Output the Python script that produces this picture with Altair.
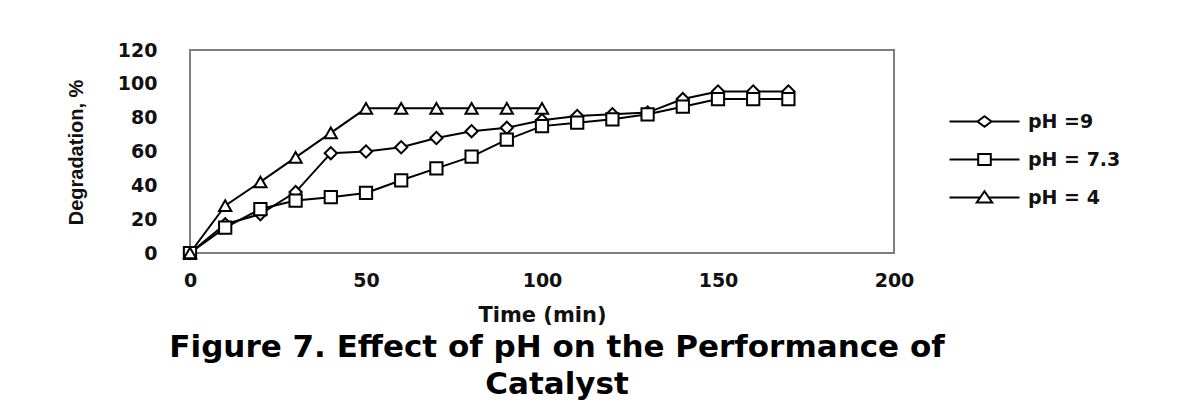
import altair as alt
import pandas as pd

# ---- data ----
series_labels = ["pH =9", "pH = 7.3", "pH = 4"]

time_ph9 = [0, 10, 20, 30, 40, 50, 60, 70, 80, 90, 100, 110, 120, 130, 140, 150, 160, 170]
deg_ph9 = [0, 17, 23, 36, 59, 60, 62.5, 68, 72, 74, 78.5, 81, 82, 83, 91, 95.5, 95.5, 95.5]

time_ph73 = [0, 10, 20, 30, 40, 50, 60, 70, 80, 90, 100, 110, 120, 130, 140, 150, 160, 170]
deg_ph73 = [0, 15, 26, 31, 33, 35.5, 43, 50, 57, 67, 75, 77, 79, 82, 86.5, 91, 91, 91]

time_ph4 = [0, 10, 20, 30, 40, 50, 60, 70, 80, 90, 100]
deg_ph4 = [0, 28, 42, 56.5, 71, 85.5, 85.5, 85.5, 85.5, 85.5, 85.5]

x_ticks = [0, 50, 100, 150, 200]
y_ticks = [0, 20, 40, 60, 80, 100, 120]

rows = []
for lab, ts, vs in zip(series_labels, [time_ph9, time_ph73, time_ph4], [deg_ph9, deg_ph73, deg_ph4]):
    for t, v in zip(ts, vs):
        rows.append({"series": lab, "time": t, "deg": v})
df = pd.DataFrame(rows)

# marker shapes for the plot and legend glyphs (line through marker)
plot_shapes = ["diamond", "square", "triangle-up"]
legend_shapes = [
    "M-5,0L-1,0M1,0L5,0M-1,0L0,-0.75L1,0L0,0.75Z",
    "M-5,0L-0.9,0M0.9,0L5,0M-0.9,-0.8L0.9,-0.8L0.9,0.8L-0.9,0.8Z",
    "M-5,0L-0.62,0M0.62,0L5,0M-1.1,0.7L0,-0.9L1.1,0.7Z",
]

tick_font = "DejaVu Sans"

x_enc = alt.X(
    "time:Q",
    scale=alt.Scale(domain=[0, 200], nice=False),
    axis=alt.Axis(
        values=x_ticks, ticks=False, domain=False, grid=False, labelFlush=False,
        labelPadding=18, labelFont=tick_font, labelFontSize=19, labelFontWeight="bold",
        labelColor="#111111",
        title="Time (min)", titleFont=tick_font, titleFontSize=21, titleFontWeight="bold",
        titleColor="#111111", titleX=352, titleY=62, titleBaseline="middle", titleAlign="center",
    ),
)
y_enc = alt.Y(
    "deg:Q",
    scale=alt.Scale(domain=[0, 120], nice=False),
    axis=alt.Axis(
        values=y_ticks, ticks=False, domain=False, grid=False,
        labelPadding=33, labelFont=tick_font, labelFontSize=19, labelFontWeight="bold",
        labelColor="#111111",
        title="Degradation, %",
        titleFont="Liberation Sans",
        titleFontSize=20, titleFontWeight="bold", titleColor="#111111",
        titleAngle=270, titleX=-114, titleY=102, titleBaseline="middle", titleAlign="center",
    ),
)

base = alt.Chart(df)

lines = base.mark_line(color="black", strokeWidth=2).encode(
    x=x_enc, y=y_enc, detail="series:N"
)

points = base.mark_point(filled=True, fill="white", stroke="black", strokeWidth=2, size=150, opacity=1).encode(
    x=x_enc, y=y_enc,
    shape=alt.Shape("series:N", scale=alt.Scale(domain=series_labels, range=plot_shapes), legend=None),
)

legend_layer = base.mark_point(opacity=0).encode(
    x=x_enc, y=y_enc,
    shape=alt.Shape(
        "series:N",
        scale=alt.Scale(domain=series_labels, range=legend_shapes),
        legend=alt.Legend(
            title=None, orient="none", legendX=785, legendY=62, padding=0,
            symbolSize=196, symbolStrokeColor="black", symbolFillColor="white",
            symbolStrokeWidth=2, symbolOpacity=1,
            labelFont=tick_font, labelFontSize=19, labelFontWeight="bold", labelColor="#111111",
            labelOffset=34, rowPadding=17,
        ),
    ),
)

chart = (
    alt.layer(lines, points, legend_layer)
    .resolve_scale(shape="independent")
    .properties(
        width=704, height=203,
        background="white",
        autosize=alt.AutoSizeParams(type="none"),
        padding={"left": 182, "top": 42, "right": 277, "bottom": 148},
        title=alt.TitleParams(
            text=["Figure 7. Effect of pH on the Performance of", "Catalyst"],
            orient="bottom", anchor="middle", font="DejaVu Sans", fontSize=31,
            fontWeight="bold", lineHeight=37, baseline="top", offset=8, dx=15,
            color="#000000",
        ),
    )
    .configure_view(stroke="#7f7f7f", strokeWidth=2)
)

chart.save("out.html", embed_options={"renderer": "svg", "actions": False})
